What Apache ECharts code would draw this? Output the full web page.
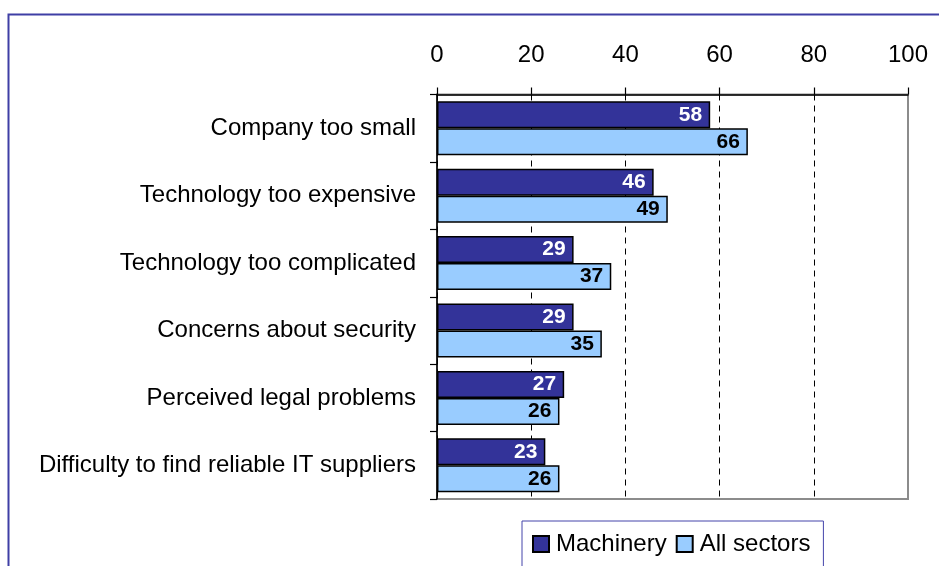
<!DOCTYPE html>
<html>
<head>
<meta charset="utf-8">
<script src="https://cdn.jsdelivr.net/npm/echarts@6/dist/echarts.min.js"></script>
<style>
  html, body { margin: 0; padding: 0; background: #fff; }
  #chart { width: 939px; height: 566px; }
</style>
</head>
<body>
<div id="chart"></div>
<script>
// Reasons given for not adopting the technology, in percent
const categories = [
  'Company too small',
  'Technology too expensive',
  'Technology too complicated',
  'Concerns about security',
  'Perceived legal problems',
  'Difficulty to find reliable IT suppliers'
];
const machinery = [58, 46, 29, 29, 27, 23];
const allSectors = [66, 49, 37, 35, 26, 26];
const seriesNames = ['Machinery', 'All sectors'];

const FONT = '"Liberation Sans", Arial, Helvetica, sans-serif';

const chart = echarts.init(document.getElementById('chart'), null, { renderer: 'canvas' });

function barSeries(name, data, fill, labelColor) {
  return {
    name: name,
    type: 'bar',
    data: data,
    barWidth: 27,
    barGap: '0%',
    itemStyle: { color: fill, borderColor: '#000', borderWidth: 1.5 },
    label: {
      show: true,
      position: 'insideRight',
      distance: 8,
      color: labelColor,
      fontFamily: FONT,
      fontWeight: 'bold',
      fontSize: 21
    },
    emphasis: { disabled: true },
    animation: false
  };
}

chart.setOption({
  backgroundColor: '#fff',
  animation: false,
  graphic: [{
    type: 'rect',
    shape: { x: 8.5, y: 14.5, width: 1200, height: 1200 },
    style: { fill: 'none', stroke: '#3f3fa5', lineWidth: 2 },
    silent: true
  }],
  grid: {
    left: 437, right: 31, top: 94.5, bottom: 67,
    show: true, borderColor: '#8c8c8c', borderWidth: 2, backgroundColor: 'transparent'
  },
  legend: {
    data: seriesNames,
    left: 522, top: 521,
    padding: [11, 13, 40, 10],
    itemGap: 9,
    itemWidth: 16, itemHeight: 16,
    icon: 'rect',
    borderColor: '#4444aa', borderWidth: 1,
    textStyle: { fontFamily: FONT, fontSize: 24, color: '#000', padding: [0, 0, 0, 2] },
    selectedMode: false
  },
  xAxis: {
    type: 'value',
    position: 'top',
    min: 0, max: 100, interval: 20,
    axisLine: { show: true, lineStyle: { color: '#000', width: 1.5 } },
    axisTick: { show: true, length: 7, lineStyle: { color: '#000', width: 1.2 } },
    axisLabel: { fontFamily: FONT, fontSize: 24, color: '#000', margin: 27 },
    splitLine: {
      show: true,
      showMaxLine: false,
      lineStyle: { color: '#000', type: [6, 5], width: 1 }
    }
  },
  yAxis: {
    type: 'category',
    data: categories,
    inverse: true,
    axisLine: { show: true, lineStyle: { color: '#000', width: 1.5 } },
    axisTick: { show: true, length: 7, lineStyle: { color: '#000', width: 1.2 } },
    axisLabel: { fontFamily: FONT, fontSize: 24, color: '#000', margin: 21 },
    splitLine: { show: false }
  },
  series: [
    barSeries(seriesNames[0], machinery, '#333399', '#fff'),
    barSeries(seriesNames[1], allSectors, '#99ccff', '#000')
  ]
});
</script>
</body>
</html>
